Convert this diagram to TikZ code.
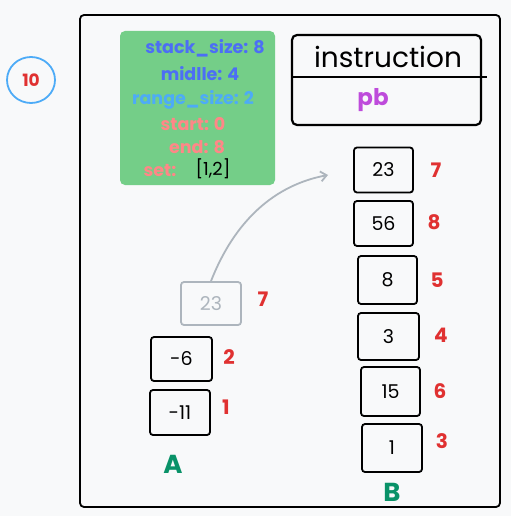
\documentclass[tikz,border=0pt]{standalone}
\usepackage{fontspec}
\setmainfont{Poppins}
\usetikzlibrary{arrows.meta,shapes.geometric}
\definecolor{bg}{HTML}{F8F9FA}
\definecolor{grn}{HTML}{74CE88}
\definecolor{dblue}{HTML}{4C6EF5}
\definecolor{lblue}{HTML}{4DABF7}
\definecolor{pink}{HTML}{FF8787}
\definecolor{lred}{HTML}{E03131}
\definecolor{purp}{HTML}{BE4BDB}
\definecolor{gry}{HTML}{ADB5BD}
\definecolor{tgreen}{HTML}{099268}
\tikzset{
  cell/.style={draw=black, line width=1.8pt, rounded corners=3pt, minimum width=59pt, minimum height=45pt, font=\fontsize{19}{21}\selectfont, text=black},
  ghost/.style={cell, draw=gry, text=gry},
  idx/.style={text=lred, font=\fontsize{20}{22}\selectfont\bfseries},
  gtext/.style={font=\fontsize{17.5}{19}\selectfont\bfseries},
  stk/.style={text=tgreen, font=\fontsize{26}{28}\selectfont\bfseries}
}
\begin{document}
\begin{tikzpicture}[x=1pt,y=-1pt]
\fill[bg] (0,0) rectangle (511,516);
\useasboundingbox (0,0) rectangle (511,516);
% counter circle
\node[draw=lblue, line width=1.8pt, ellipse, minimum width=48pt, minimum height=46pt, inner sep=0pt, text=lred, font=\fontsize{17}{18}\selectfont\bfseries] (cnt) at (31,80) {10};
% frame
\node[draw=black, line width=1.8pt, rounded corners=4pt, minimum width=420pt, minimum height=492pt, inner sep=0pt] (frame) at (290,261) {};
% info box
\node[fill=grn, rounded corners=5pt, minimum width=155pt, minimum height=154pt, inner sep=0pt] (info) at (197.5,108) {};
\node[gtext, text=dblue] (l1) at (205,48) {stack\_size: 8};
\node[gtext, text=dblue] (l2) at (200,74) {midlle: 4};
\node[gtext, text=lblue] (l3) at (193,100) {range\_size: 2};
\node[gtext, text=pink] (l4) at (193,124) {start: 0};
\node[gtext, text=pink] (l5) at (197,147) {end: 8};
\node[gtext, text=pink] (l6) at (160,170) {set:};
\node[gtext, text=black, font=\fontsize{18}{19}\selectfont] (l7) at (213,169) {[1,2]};
% instruction box
\node[draw=black, line width=2.2pt, rounded corners=5pt, minimum width=189pt, minimum height=90pt, inner sep=0pt] (ibox) at (386.5,80) {};
\coordinate (dl) at (292,77);
\coordinate (dr) at (487,77);
\draw[line width=2.2pt] (dl) -- (dr);
\node[font=\fontsize{28}{30}\selectfont, text=black] (ititle) at (388,57) {instruction};
\node[font=\fontsize{23}{25}\selectfont\bfseries, text=purp] (iop) at (373,100) {pb};
% stack A
\node[ghost, minimum width=60pt, minimum height=43pt] (g23) at (211,303.5) {23};
\node[idx] (ig) at (263,299) {7};
\node[cell, minimum width=61pt, minimum height=44pt] (a2) at (181.5,359) {-6};
\node[idx] (ia2) at (229,357) {2};
\node[cell, minimum width=60pt, minimum height=45pt] (a1) at (180,412.5) {-11};
\node[idx] (ia1) at (226,407) {1};
\node[stk] (A) at (173,464) {A};
% stack B
\node[cell] (b7) at (383.5,170) {23};
\node[idx] (ib7) at (436,170) {7};
\node[cell] (b8) at (383.5,223.5) {56};
\node[idx] (ib8) at (434,222) {8};
\node[cell, minimum height=48pt] (b5) at (387.5,280) {8};
\node[idx] (ib5) at (437,280) {5};
\node[cell, minimum width=61pt, minimum height=47pt] (b4) at (388.5,336.5) {3};
\node[idx] (ib4) at (441,335) {4};
\node[cell, minimum height=49pt] (b6) at (390.5,391.5) {15};
\node[idx] (ib6) at (440,391) {6};
\node[cell, minimum width=60pt, minimum height=48pt] (b3) at (392,448) {1};
\node[idx] (ib3) at (442,441) {3};
\node[stk] (B) at (392,492) {B};
% move arrow
\coordinate (tgt) at (328,175);
\draw[gry, line width=1.8pt, -{Straight Barb[length=6pt,width=10pt]}] (g23.north) .. controls (235,220) and (275,185) .. (tgt);
\end{tikzpicture}
\end{document}
